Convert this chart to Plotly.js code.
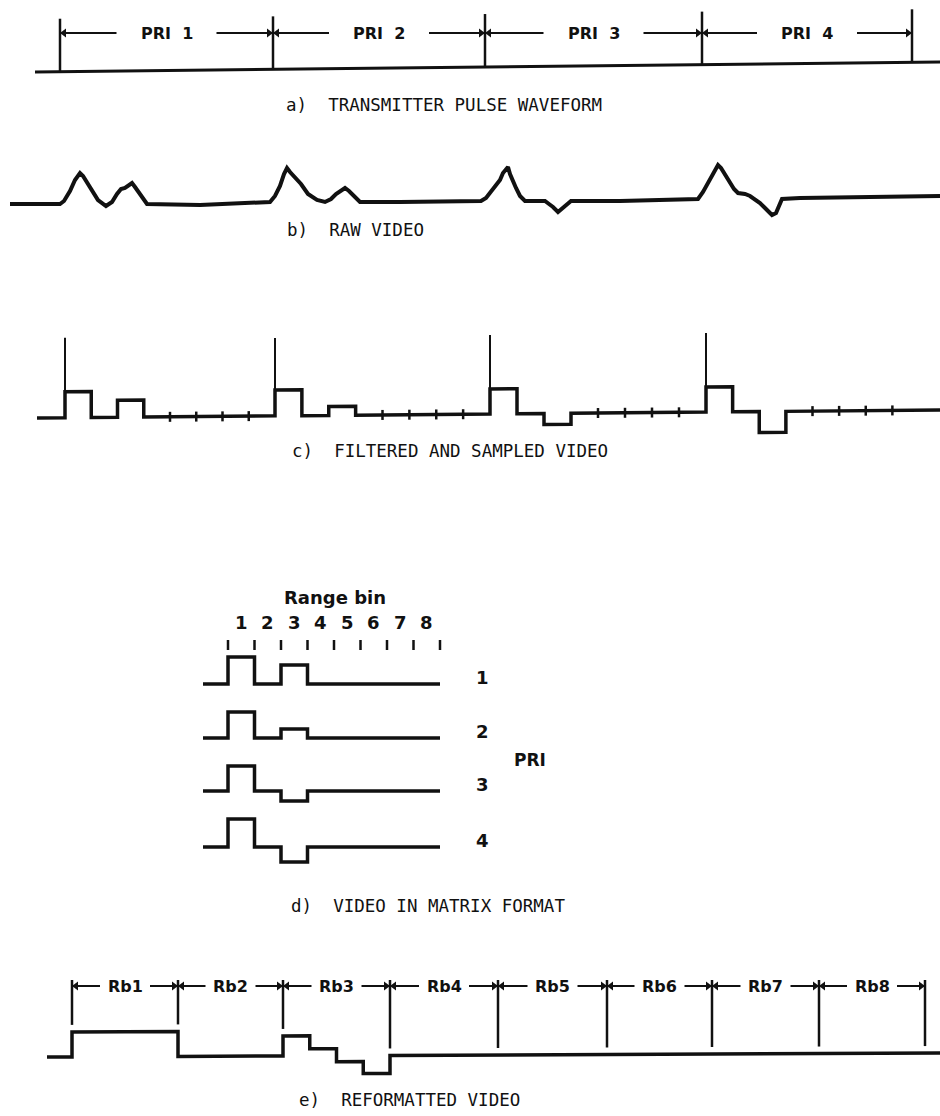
<!DOCTYPE html>
<html><head><meta charset="utf-8">
<script src="https://cdn.plot.ly/plotly-3.0.1.min.js"></script>
<style>html,body{margin:0;padding:0;background:#fff}</style>
</head><body><div id="chart" style="width:940px;height:1116px"></div>
<script>
// ================= DATA =================
// a) transmitter pulse waveform: pulse times (PRI boundaries) and pulse amplitude
const priEdges = [60, 273, 485, 702, 912];
const priLabels = ['PRI\u00a0\u00a01', 'PRI\u00a0\u00a02', 'PRI\u00a0\u00a03', 'PRI\u00a0\u00a04'];
const txPulseAmp = [53, 53, 53, 53, 53];

// b) raw video: time and amplitude (read from the trace)
const rawT = [10,60,64,70,75,78,80,83,87,92,98,106,112,117,121,125,129,132,135,139,143,147,200,262,270,275,280,284,287,290,295,301,308,317,325,331,336,341,345,349,354,360,400,470,481,486,491,496,500,503,506,508,510,513,516,520,525,535,545,549,553,558,563,567,571,620,698,703,708,712,715,718,721,725,729,734,738,745,750,755,760,764,768,772,776,779,782,800,870,940];
const rawAmp = [0,0,3,13,24,28,31,28,22,13,4,-2,2,10,15,16,19,21,17,11,5,0,-1,1,2,8,18,30,36,32,27,20,10,4,2,5,10,13,16,13,8,2,2,3,3,6,13,20,24,31,34,37,30,22,16,8,3,3,3,0,-3,-8,-4,0,3,3,5,12,21,29,34,39,36,29,22,15,11,10,8,5,1,-3,-7,-11,-9,-3,5,6,7,8];

// c) filtered and sampled video: PRI start times (last = end of PRI 4), samples per range bin
const sampPriStart = [65, 275, 490, 706, 919];
const sampledVideo = [
  [26, 0, 17, 0, 0, 0, 0, 0],
  [26, 0, 9, 0, 0, 0, 0, 0],
  [25, 0, -11, 0, 0, 0, 0, 0],
  [25, 0, -21, 0, 0, 0, 0, 0]
];
const sampleSpikeAmp = [80, 78, 79, 79];

// d) video in matrix format
const rangeBinLabels = ['1', '2', '3', '4', '5', '6', '7', '8'];
const matrixRowLabels = ['1', '2', '3', '4'];
const matrixVideo = [
  [27, 0, 19, 0, 0, 0, 0, 0],
  [26, 0, 9, 0, 0, 0, 0, 0],
  [25, 0, -10, 0, 0, 0, 0, 0],
  [28, 0, -15, 0, 0, 0, 0, 0]
];

// e) reformatted video: range-bin boundaries and samples (4 PRIs per range bin)
const rbLabels = ['Rb1', 'Rb2', 'Rb3', 'Rb4', 'Rb5', 'Rb6', 'Rb7', 'Rb8'];
const rbEdges = [72, 178, 283, 390, 498, 607, 712, 819, 925];
const reformVideo = [
  [25, 25, 25, 25],
  [0, 0, 0, 0],
  [20, 7, -6, -18],
  [0, 0, 0, 0],
  [0, 0, 0, 0],
  [0, 0, 0, 0],
  [0, 0, 0, 0],
  [0, 0, 0, 0]
];

const captions = [
  'a)\u00a0\u00a0TRANSMITTER PULSE WAVEFORM',
  'b)\u00a0\u00a0RAW VIDEO',
  'c)\u00a0\u00a0FILTERED AND SAMPLED VIDEO',
  'd)\u00a0\u00a0VIDEO IN MATRIX FORMAT',
  'e)\u00a0\u00a0REFORMATTED VIDEO'
];

// ================= DRAWING =================
const INK = '#111';
const traces = [];
const ann = [];
const BOLD = {family: '"DejaVu Sans", sans-serif', weight: 700, color: INK};
const CAP = {family: '"DejaVu Sans Mono", monospace', size: 17.5, color: INK};

function line(xs, ys, w) {
  traces.push({type: 'scatter', mode: 'lines', x: xs, y: ys,
    line: {color: INK, width: w, shape: 'linear'}, hoverinfo: 'skip', connectgaps: false});
}
function marks(xs, ys, sym, size) {
  traces.push({type: 'scatter', mode: 'markers', x: xs, y: ys,
    marker: {symbol: sym, size: size, color: INK}, hoverinfo: 'skip'});
}
function text(t, x, y, font, xanchor) {
  ann.push({text: t, x: x, y: y, xref: 'x', yref: 'y', showarrow: false,
    xanchor: xanchor || 'center', yanchor: 'middle', font: font});
}
// dimension arrows between edges, label in the middle
function dimension(edges, labels, y, gap, fontSize) {
  const lx = [], ly = [], lt = [], rt = [];
  for (let i = 0; i < labels.length; i++) {
    const a = edges[i], b = edges[i + 1], m = (a + b) / 2;
    lx.push(a, m - gap, null, m + gap, b, null);
    ly.push(y, y, null, y, y, null);
    lt.push(a + 4); rt.push(b - 4);
    text(labels[i], m, y, Object.assign({size: fontSize}, BOLD));
  }
  line(lx, ly, 2);
  marks(lt, lt.map(() => y), 'triangle-left', 8);
  marks(rt, rt.map(() => y), 'triangle-right', 8);
}

// ---- a) transmitter pulses
const baseA = x => 72 - 10 * (x - 35) / 905;
line([35, 940], [baseA(35), baseA(940)], 3);
{
  const px = [], py = [];
  priEdges.forEach((t, i) => { px.push(t, t, null); py.push(baseA(t), baseA(t) - txPulseAmp[i], null); });
  line(px, py, 2.5);
}
dimension(priEdges, priLabels, 33, 50, 16);
text(captions[0], 284, 105, CAP, 'left');

// ---- b) raw video
const baseB = 204;
line(rawT, rawAmp.map(v => baseB - v), 4);
text(captions[1], 285, 230, CAP, 'left');

// ---- c) filtered and sampled video
const baseC = x => 418 - 8 * (x - 37) / 903;
{
  const s0 = sampPriStart[0];
  const xs = [37, s0], ys = [baseC(37), baseC(s0)];
  const tx = [], ty = [], sx = [], sy = [];
  for (let k = 0; k < sampledVideo.length; k++) {
    const s = sampPriStart[k], e = sampPriStart[k + 1], w = (e - s) / 8;
    for (let i = 0; i < 8; i++) {
      const x0 = s + i * w, x1 = s + (i + 1) * w, v = sampledVideo[k][i];
      xs.push(x0, x1); ys.push(baseC(x0) - v, baseC(x1) - v);
      if (i >= 4) { tx.push(x0, x0, null); ty.push(baseC(x0) - 5, baseC(x0) + 5, null); }
    }
    sx.push(s, s, null); sy.push(baseC(s) - sampledVideo[k][0], baseC(s) - sampleSpikeAmp[k], null);
  }
  const last = sampPriStart[sampPriStart.length - 1];
  xs.push(last, 940); ys.push(baseC(last), baseC(940));
  line(xs, ys, 3.5);
  line(tx, ty, 2.5);
  line(sx, sy, 2);
}
text(captions[2], 290, 451, CAP, 'left');

// ---- d) video in matrix format
const dX0 = 203, dEdge0 = 228, dBin = 26.5;
const dBase = [684, 738, 791, 847];
text('Range bin', 335, 597, Object.assign({size: 18}, BOLD));
rangeBinLabels.forEach((l, i) => text(l, dEdge0 + (i + 0.5) * dBin, 622, Object.assign({size: 18}, BOLD)));
{
  const tx = [], ty = [];
  for (let i = 0; i <= 8; i++) { const x = dEdge0 + i * dBin; tx.push(x, x, null); ty.push(640, 650, null); }
  line(tx, ty, 2.5);
}
matrixVideo.forEach((row, r) => {
  const b = dBase[r];
  const xs = [dX0, dEdge0], ys = [b, b];
  row.forEach((v, i) => { xs.push(dEdge0 + i * dBin, dEdge0 + (i + 1) * dBin); ys.push(b - v, b - v); });
  line(xs, ys, 3.5);
  text(matrixRowLabels[r], 482, b - 7, Object.assign({size: 18}, BOLD));
});
text('PRI', 530, 760, Object.assign({size: 17}, BOLD));
text(captions[3], 289, 906, CAP, 'left');

// ---- e) reformatted video
const baseE = x => 1057 - 4 * (x - 47) / 893;
{
  const xs = [47, rbEdges[0]], ys = [baseE(47), baseE(rbEdges[0])];
  for (let r = 0; r < reformVideo.length; r++) {
    const s = rbEdges[r], w = (rbEdges[r + 1] - s) / 4;
    for (let p = 0; p < 4; p++) {
      const x0 = s + p * w, x1 = s + (p + 1) * w, v = reformVideo[r][p];
      xs.push(x0, x1); ys.push(baseE(x0) - v, baseE(x1) - v);
    }
  }
  const last = rbEdges[rbEdges.length - 1];
  xs.push(last, 940); ys.push(baseE(last), baseE(940));
  line(xs, ys, 3.5);
  const bx = [], by = [];
  rbEdges.forEach((x, k) => {
    const left = k > 0 ? reformVideo[k - 1][3] : 0;
    const right = k < reformVideo.length ? reformVideo[k][0] : 0;
    bx.push(x, x, null); by.push(980, baseE(x) - Math.max(left, right, 0) - 7, null);
  });
  line(bx, by, 2.5);
}
dimension(rbEdges, rbLabels, 986, 25, 16);
text(captions[4], 297, 1100, CAP, 'left');

const layout = {
  width: 940, height: 1116,
  margin: {l: 0, r: 0, t: 0, b: 0, pad: 0},
  paper_bgcolor: '#fff', plot_bgcolor: '#fff',
  showlegend: false,
  xaxis: {range: [0, 940], visible: false, fixedrange: true},
  yaxis: {range: [1116, 0], visible: false, fixedrange: true},
  annotations: ann
};
Plotly.newPlot('chart', traces, layout, {staticPlot: true, displayModeBar: false});
</script>
</body></html>
